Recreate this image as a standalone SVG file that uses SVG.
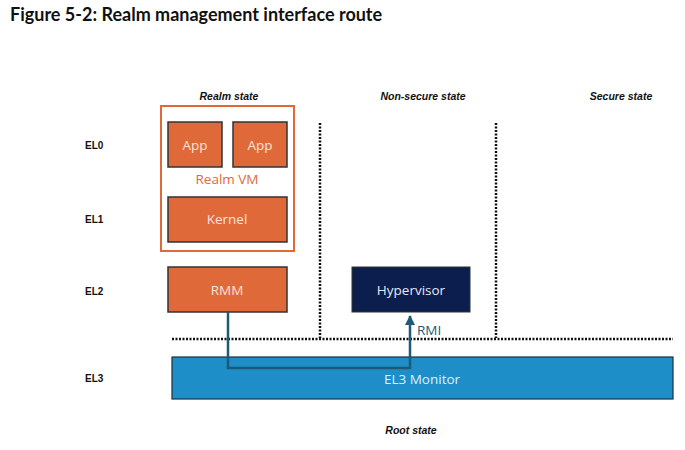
<svg xmlns="http://www.w3.org/2000/svg" width="685" height="450" viewBox="0 0 685 450">
<defs>
<marker id="arr" viewBox="0 0 10 10" refX="9" refY="5" markerWidth="4" markerHeight="4" orient="auto" markerUnits="strokeWidth">
<path d="M0,0 L10,5 L0,10 z" fill="#1d5a78"/>
</marker>
<style>
.title{font-family:Lato,"Liberation Sans",sans-serif;font-weight:bold;font-size:18px;fill:#111}
.lbl{font-family:"Liberation Sans",Arial,sans-serif;font-weight:bold;font-size:10px;fill:#111}
.st{font-family:"Liberation Sans",Arial,sans-serif;font-weight:bold;font-style:italic;font-size:10.5px;fill:#111;text-anchor:middle}
.box{stroke:#333;stroke-width:1.5}
.org{fill:#e0693a}
.bt{font-family:"Open Sans","Liberation Sans",sans-serif;font-size:13.5px;text-anchor:middle;dominant-baseline:central}
.dot{stroke:#111;stroke-width:2.5;stroke-dasharray:2 1.5;fill:none}
</style>
</defs>
<rect width="685" height="450" fill="#fff"/>
<text class="title" x="10" y="21">Figure 5-2: Realm management interface route</text>

<g id="state-labels">
<text class="st" x="229" y="100">Realm state</text>
<text class="st" x="423" y="100">Non-secure state</text>
<text class="st" x="621" y="100">Secure state</text>
<text class="st" x="411" y="434">Root state</text>
</g>
<g id="el-labels">
<text class="lbl" x="85" y="149">EL0</text>
<text class="lbl" x="85" y="223">EL1</text>
<text class="lbl" x="85" y="295">EL2</text>
<text class="lbl" x="85" y="382">EL3</text>
</g>

<g id="dividers">
<line class="dot" x1="320" y1="123" x2="320" y2="338"/>
<line class="dot" x1="496" y1="123" x2="496" y2="338"/>
<line class="dot" x1="172" y1="339" x2="673" y2="339"/>
</g>

<g id="realm-vm">
<rect x="161" y="106" width="133" height="145" fill="none" stroke="#e0693a" stroke-width="2"/>
<text class="bt" x="227" y="179" fill="#e0693a">Realm VM</text>
</g>
<g id="app1">
<rect class="box org" x="168" y="122" width="54" height="45"/>
<text class="bt" x="195" y="145" fill="#fbe3d6">App</text>
</g>
<g id="app2">
<rect class="box org" x="233" y="122" width="54" height="45"/>
<text class="bt" x="260" y="145" fill="#fbe3d6">App</text>
</g>
<g id="kernel">
<rect class="box org" x="168" y="197" width="119" height="45"/>
<text class="bt" x="227" y="219" fill="#fbe3d6">Kernel</text>
</g>
<g id="rmm">
<rect class="box org" x="168" y="267" width="119" height="45"/>
<text class="bt" x="227" y="290" fill="#fbe3d6">RMM</text>
</g>
<g id="hypervisor">
<rect x="352" y="267" width="118" height="45" fill="#0b1e4d" stroke="#333" stroke-width="1"/>
<text class="bt" x="411" y="290" fill="#e6eaf2">Hypervisor</text>
</g>
<g id="el3-monitor">
<rect x="172" y="357" width="501" height="42" fill="#1e8ec9" stroke="#1a3040" stroke-width="1.2"/>
<text class="bt" x="422" y="379" fill="#dff0fa">EL3 Monitor</text>
</g>

<g id="connectors">
<polyline points="228,312 228,368 410,368 410,316" fill="none" stroke="#1d5a78" stroke-width="2.5" marker-end="url(#arr)"/>
<text x="417" y="335" font-family="'Open Sans','Liberation Sans',sans-serif" font-size="13.5" fill="#1d5a78">RMI</text>
</g>
</svg>
